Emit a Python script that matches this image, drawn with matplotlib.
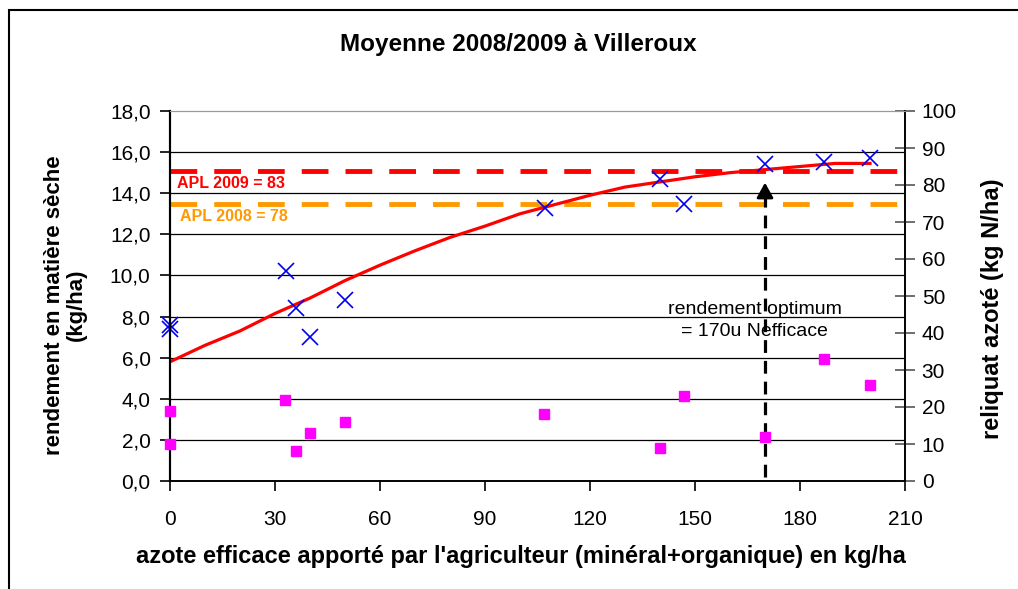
import matplotlib.pyplot as plt
from matplotlib.patches import Rectangle

plt.rcParams['font.family'] = ['Liberation Sans', 'DejaVu Sans']

# rendement (left axis, t/ha) - blue crosses
x_rdt = [0, 0, 33, 36, 40, 50, 107, 140, 147, 170, 187, 200]
y_rdt = [7.6, 7.4, 10.2, 8.4, 7.0, 8.8, 13.3, 14.7, 13.5, 15.4, 15.5, 15.7]

# reliquat azoté (right axis, kg N/ha) - magenta squares
x_rel = [0, 0, 33, 36, 40, 50, 107, 140, 147, 170, 187, 200]
y_rel = [19, 10, 22, 8, 13, 16, 18, 9, 23, 12, 33, 26]

# fitted response curve
x_fit = [0, 10, 20, 30, 40, 50, 60, 70, 80, 90, 100, 110, 120, 130, 140, 150, 160, 170, 180, 190, 200]
y_fit = [5.8, 6.6, 7.3, 8.15, 8.9, 9.75, 10.5, 11.2, 11.85, 12.4, 13.0, 13.45, 13.9, 14.3, 14.55,
         14.8, 15.0, 15.15, 15.3, 15.45, 15.45]

apl_2009 = 15.1
apl_2008 = 13.5
x_optimum = 170

yticks = [0, 2, 4, 6, 8, 10, 12, 14, 16, 18]
xticks = [0, 30, 60, 90, 120, 150, 180, 210]
rticks = [0, 10, 20, 30, 40, 50, 60, 70, 80, 90, 100]

W, H = 1018, 589
fig = plt.figure(figsize=(W / 100, H / 100), dpi=100)
ax = fig.add_axes([170 / W, 1 - 481 / H, 735 / W, 370 / H])
ax2 = ax.twinx()

# outer chart border
fig.patches.append(Rectangle((9 / W, -0.1), 1.2, 1 - 10 / H + 0.1, transform=fig.transFigure,
                             fill=False, lw=1.5, edgecolor='black', clip_on=False))

ax.set_xlim(0, 210)
ax.set_ylim(0, 18)
ax2.set_ylim(0, 100)

for v in yticks[1:-1]:
    ax.axhline(v, color='black', lw=0.9, zorder=0)

ax.plot(x_fit, y_fit, color='#ff0000', lw=2.3, zorder=3)
ax.plot(x_rdt, y_rdt, linestyle='none', marker='x', color='#0000ee', markersize=12,
        markeredgewidth=1.2, zorder=4, clip_on=False)
ax2.plot(x_rel, y_rel, linestyle='none', marker='s', color='#ff00ff', markersize=6.5, zorder=4,
         clip_on=False)

ax.axhline(apl_2009, color='#ff0000', lw=3.5, dashes=(5.5, 3.5), zorder=2, clip_on=False)
ax.axhline(apl_2008, color='#ff9900', lw=3.5, dashes=(5.5, 3.5), zorder=2, clip_on=False)
ax.text(2, apl_2009 - 0.25, 'APL 2009 = 83', color='#ff0000', fontsize=11.5, fontweight='bold',
        va='top', ha='left')
ax.text(3, apl_2008 - 0.25, 'APL 2008 = 78', color='#ff9900', fontsize=11.5, fontweight='bold',
        va='top', ha='left')

# optimum arrow
ax.plot([x_optimum, x_optimum], [0.2, 13.9], color='black', lw=2.3, dashes=(4, 2.5), zorder=5)
ax.annotate('', xy=(x_optimum, 14.65), xytext=(x_optimum, 13.8),
            arrowprops=dict(arrowstyle='-|>,head_length=0.9,head_width=0.5', color='black', lw=2),
            zorder=6)
ax.text(x_optimum - 3, 7.8, 'rendement optimum\n= 170u Nefficace', ha='center', va='center',
        fontsize=14, linespacing=1.4, zorder=4)

ax.set_xticks(xticks)
ax.set_yticks(yticks)
ax.set_yticklabels([f'{v:.1f}'.replace('.', ',') for v in yticks])
ax2.set_yticks(rticks)

ax.tick_params(axis='both', labelsize=15, direction='out', length=7, width=1.2, color='black')
ax.tick_params(axis='y', pad=7)
ax.tick_params(axis='x', pad=14)
ax2.tick_params(axis='y', labelsize=15, direction='inout', length=14, width=1.2, color='#555555', pad=5)

for a in (ax, ax2):
    a.spines['top'].set_color('#999999')
    a.spines['left'].set_linewidth(1.5)
    a.spines['right'].set_linewidth(1.2)
    a.spines['bottom'].set_linewidth(1.2)

fig.text(518 / W, 1 - 45 / H, 'Moyenne 2008/2009 à Villeroux', ha='center', va='center',
         fontsize=17.5, fontweight='bold')
fig.text(521 / W, 1 - 557 / H, "azote efficace apporté par l'agriculteur (minéral+organique) en kg/ha",
         ha='center', va='center', fontsize=17, fontweight='bold')
fig.text(65 / W, 1 - 305 / H, 'rendement en matière sèche\n(kg/ha)', ha='center', va='center',
         rotation=90, fontsize=16, fontweight='bold', linespacing=1.05)
fig.text(992 / W, 1 - 309 / H, 'reliquat azoté (kg N/ha)', ha='center', va='center',
         rotation=90, fontsize=17, fontweight='bold')

fig.savefig('out.png', dpi=100)
